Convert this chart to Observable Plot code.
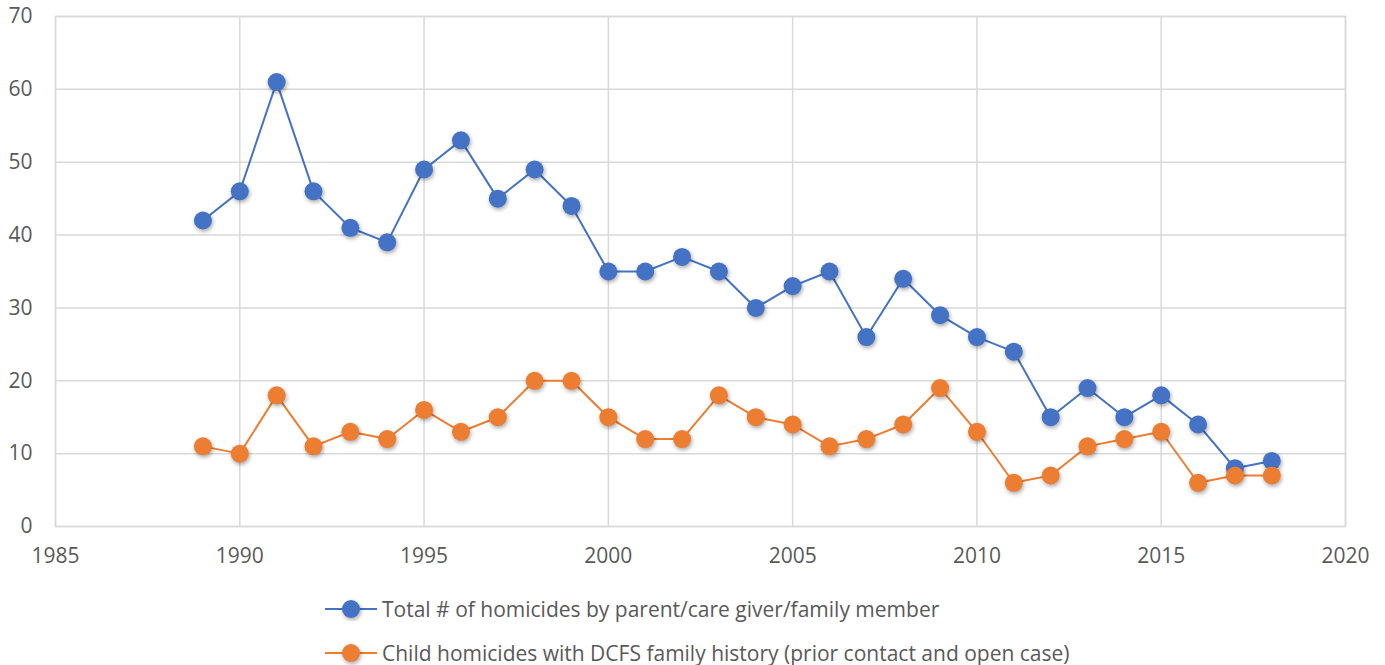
<!DOCTYPE html>
<html>
<head>
<meta charset="utf-8">
<script src="https://cdn.jsdelivr.net/npm/d3@7"></script>
<script src="https://cdn.jsdelivr.net/npm/@observablehq/plot@0.6"></script>
<style>
  html, body { margin: 0; padding: 0; background: #fff; }
  body { width: 1385px; height: 665px; position: relative; overflow: hidden; font-family: "Open Sans", "Liberation Sans", sans-serif; }
  #chart { position: absolute; left: 0; top: 0; }
  .legend-row { position: absolute; left: 325px; height: 24px; display: flex; align-items: center; font-size: 21px; line-height: 1; color: #595959; white-space: nowrap; }
  .legend-row svg { margin-right: 3px; }
  g[aria-label="dot"] circle { filter: drop-shadow(1px 2px 2px rgba(0,0,0,0.35)); }
</style>
</head>
<body>
<div id="chart"></div>
<div id="legend"></div>
<script>
const years = [1989,1990,1991,1992,1993,1994,1995,1996,1997,1998,1999,2000,2001,2002,2003,2004,2005,2006,2007,2008,2009,2010,2011,2012,2013,2014,2015,2016,2017,2018];
const totalHomicides = [42,46,61,46,41,39,49,53,45,49,44,35,35,37,35,30,33,35,26,34,29,26,24,15,19,15,18,14,8,9];
const dcfsHistory = [11,10,18,11,13,12,16,13,15,20,20,15,12,12,18,15,14,11,12,14,19,13,6,7,11,12,13,6,7,7];
const seriesNames = ["Total # of homicides by parent/care giver/family member", "Child homicides with DCFS family history (prior contact and open case)"];
const seriesColors = ["#4472C4", "#ED7D31"];
const xTicks = [1985,1990,1995,2000,2005,2010,2015,2020];
const yTicks = [0,10,20,30,40,50,60,70];

const data = [];
years.forEach((y, i) => {
  data.push({year: y, value: totalHomicides[i], series: seriesNames[0]});
  data.push({year: y, value: dcfsHistory[i], series: seriesNames[1]});
});

const chart = Plot.plot({
  width: 1385,
  height: 585,
  marginLeft: 55,
  marginRight: 40,
  marginTop: 16,
  marginBottom: 59,
  style: { fontFamily: "'Open Sans', 'Liberation Sans', sans-serif", fontSize: "21px", color: "#595959", background: "#fff" },
  x: { domain: [1985, 2020], ticks: xTicks, tickFormat: d => String(d), label: null, tickSize: 0, tickPadding: 22 },
  y: { domain: [0, 70], ticks: yTicks, label: null, tickSize: 0, tickPadding: 23 },
  color: { domain: seriesNames, range: seriesColors },
  marks: [
    Plot.gridX(xTicks, { stroke: "#d9d9d9", strokeOpacity: 1, strokeWidth: 1.5 }),
    Plot.gridY(yTicks, { stroke: "#d9d9d9", strokeOpacity: 1, strokeWidth: 1.5 }),
    Plot.frame({ stroke: "#d9d9d9", strokeWidth: 1.5 }),
    Plot.line(data, { x: "year", y: "value", z: "series", stroke: "series", strokeWidth: 2 }),
    Plot.dot(data, { x: "year", y: "value", fill: "series", r: 9, stroke: "none" })
  ]
});
document.getElementById("chart").appendChild(chart);

const legend = document.getElementById("legend");
const rowTops = [597, 641];
seriesNames.forEach((name, i) => {
  const row = document.createElement("div");
  row.className = "legend-row";
  row.style.top = rowTops[i] + "px";
  row.innerHTML = `<svg width="54" height="24"><line x1="0" y1="12" x2="52" y2="12" stroke="${seriesColors[i]}" stroke-width="2"/><circle cx="26" cy="12" r="9" fill="${seriesColors[i]}" style="filter: drop-shadow(1px 2px 2px rgba(0,0,0,0.35))"/></svg><span>${name}</span>`;
  legend.appendChild(row);
});
</script>
</body>
</html>
